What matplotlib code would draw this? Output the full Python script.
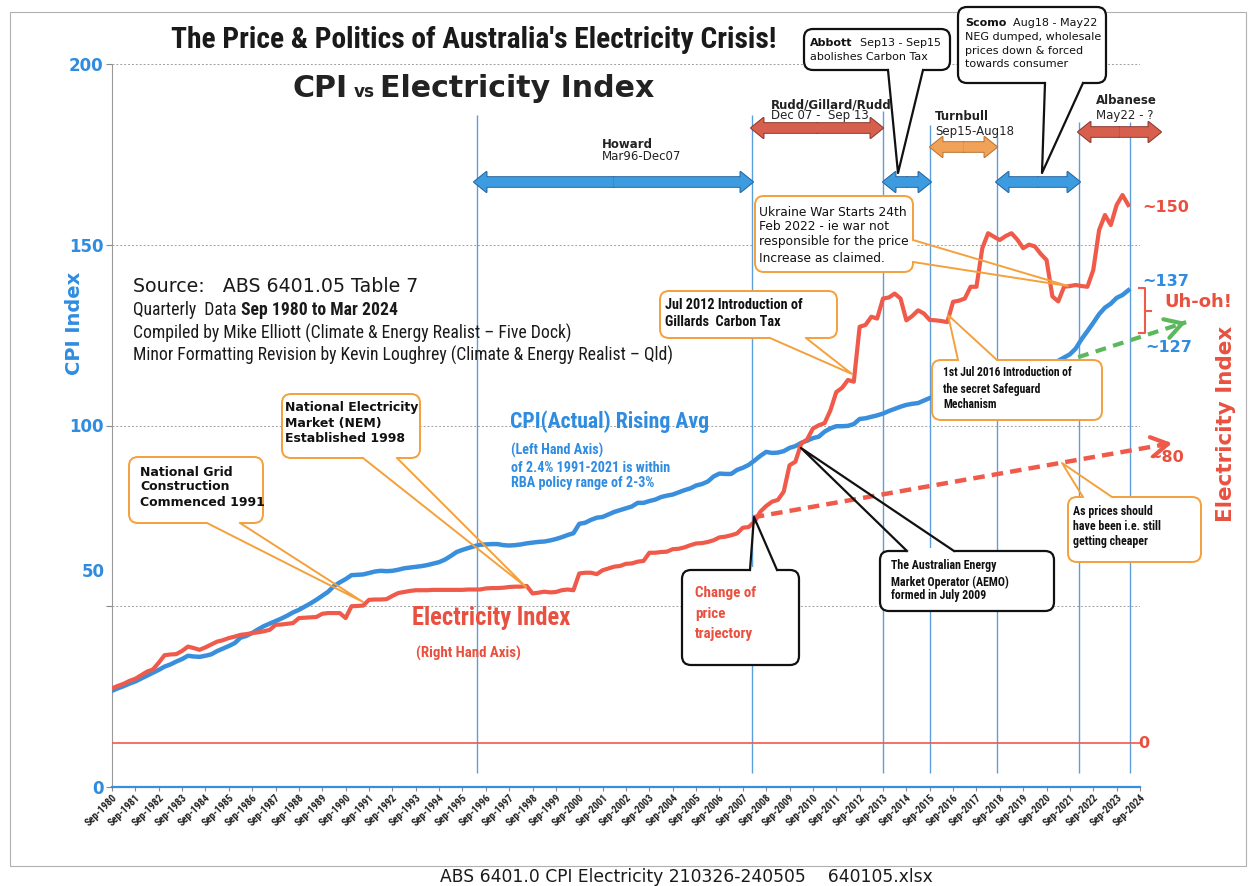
import matplotlib
matplotlib.use('Agg')
import matplotlib.pyplot as plt
import numpy as np
import pandas as pd
from matplotlib import font_manager as fm
from matplotlib.patches import FancyBboxPatch, Polygon, FancyArrowPatch, Rectangle
from matplotlib.lines import Line2D
from matplotlib.transforms import Affine2D

W, H = 1255, 886
plt.rcParams['font.family'] = ['DejaVu Sans']


# 找一个窄体字体 (原图用的是 Ubuntu Condensed)
def pick_narrow():
    names = {}
    for f in fm.fontManager.ttflist:
        names.setdefault(f.name, set()).add(f.stretch)
    for n in ['Liberation Sans Narrow', 'Roboto Condensed', 'Noto Sans Condensed',
              'Open Sans Condensed', 'DejaVu Sans Condensed', 'Ubuntu Condensed']:
        if n in names:
            return dict(family=n)
    for n in ['Noto Sans', 'Roboto', 'Open Sans', 'DejaVu Sans', 'Liberation Sans']:
        for st in ['condensed', 'semi-condensed', 'extra-condensed']:
            if st in names.get(n, ()):
                return dict(family=n, fontstretch=st)
    for n in names:
        if ('Condensed' in n or 'Narrow' in n) and 'Mono' not in n and 'CJK' not in n:
            return dict(family=n)
    return dict(family='Roboto' if 'Roboto' in names else 'DejaVu Sans')


NK = pick_narrow()

# ---------------- 数据 (季度, Sep 1980 - Mar 2024) ----------------
quarters = pd.period_range('1980Q3', '2024Q1', freq='Q')

cpi = [
    26.6, 27.3,
    27.9, 28.6, 29.2, 30.0,
    30.8, 31.6, 32.4, 33.3,
    33.9, 34.7, 35.4, 36.3,
    36.1, 36.0, 36.3, 36.7,
    37.6, 38.3, 39.0, 39.8,
    41.3, 41.8, 42.6, 43.6,
    44.5, 45.2, 45.9, 46.6,
    47.4, 48.3, 49.0, 49.9,
    50.8, 51.8, 52.9, 54.0,
    55.6, 56.6, 57.5, 58.6,
    58.7, 58.8, 59.2, 59.6,
    59.8, 59.7, 59.8, 60.1,
    60.5, 60.7, 60.9, 61.1,
    61.4, 61.8, 62.2, 62.9,
    63.9, 65.0, 65.6, 66.1,
    66.6, 67.0, 67.1, 67.2,
    67.2, 66.9, 66.8, 66.9,
    67.1, 67.4, 67.6, 67.8,
    67.9, 68.2, 68.6, 69.1,
    69.7, 70.2, 72.8, 73.1,
    73.9, 74.5, 74.7, 75.4,
    76.1, 76.6, 77.1, 77.6,
    78.6, 78.6, 79.1, 79.5,
    80.2, 80.6, 80.9, 81.5,
    82.1, 82.6, 83.4, 83.8,
    84.5, 85.9, 86.7, 86.6,
    86.6, 87.7, 88.3, 89.1,
    90.3, 91.6, 92.7, 92.4,
    92.5, 92.9, 93.8, 94.3,
    95.2, 95.8, 96.5, 96.9,
    98.3, 99.2, 99.8, 99.8,
    99.9, 100.4, 101.8, 102.0,
    102.4, 102.8, 103.3, 104.0,
    104.6, 105.2, 105.7, 106.0,
    106.2, 106.9, 107.6, 108.0,
    108.2, 108.6, 109.4, 110.0,
    110.5, 110.7, 111.4, 112.1,
    112.6, 113.0, 113.5, 114.1,
    114.1, 114.8, 115.4, 116.2,
    116.6, 114.4, 116.2, 117.2,
    117.9, 118.8, 119.7, 121.3,
    123.9, 126.1, 128.4, 130.8,
    132.6, 133.7, 135.3, 136.1,
    137.4,
]

elec = [
    15.3, 16.0,
    16.6, 17.4, 18.0, 19.0,
    20.0, 20.6, 22.5, 24.6,
    24.8, 24.9, 25.8, 27.0,
    26.6, 26.1, 26.8, 27.6,
    28.4, 28.8, 29.4, 29.8,
    30.3, 30.5, 30.8, 31.0,
    31.3, 31.7, 33.1, 33.2,
    33.4, 33.6, 35.0, 35.1,
    35.2, 35.3, 36.2, 36.4,
    36.4, 36.4, 35.0, 38.3,
    38.4, 38.5, 40.1, 40.2,
    40.2, 40.3, 41.2, 42.0,
    42.3, 42.6, 42.8, 42.8,
    42.8, 42.9, 42.9, 42.9,
    42.9, 42.9, 42.9, 43.0,
    43.0, 43.0, 43.3, 43.4,
    43.4, 43.5, 43.7, 43.8,
    43.8, 44.0, 41.9, 42.1,
    42.4, 42.2, 42.3, 42.8,
    43.0, 42.8, 47.5, 47.7,
    47.7, 47.3, 48.4, 48.9,
    49.4, 49.6, 50.2, 50.3,
    50.8, 51.0, 53.3, 53.3,
    53.5, 53.6, 54.3, 54.4,
    54.8, 55.4, 55.9, 56.0,
    56.3, 56.8, 57.6, 57.8,
    58.2, 58.7, 60.3, 60.5,
    62.0, 64.8, 66.4, 67.6,
    68.1, 70.4, 77.8, 78.8,
    83.9, 85.0, 88.1, 89.0,
    89.6, 93.2, 98.3, 99.5,
    101.7, 101.2, 116.6, 117.1,
    119.4, 118.9, 124.5, 124.8,
    125.9, 124.5, 118.4, 119.6,
    121.2, 120.3, 118.5, 118.4,
    118.2, 117.9, 123.6, 123.9,
    124.5, 127.8, 127.8, 138.6,
    142.8, 141.8, 140.9, 142.0,
    142.8, 141.0, 138.6, 139.6,
    139.1, 137.0, 135.3, 125.1,
    123.7, 127.8, 128.0, 128.3,
    128.0, 127.8, 132.5, 143.7,
    147.9, 145.1, 150.7, 153.5,
    150.7,
]
assert len(cpi) == len(elec) == len(quarters)

tick_years = list(range(1980, 2025))
tick_labels = [f'Sep-{y}' for y in tick_years]

# 政府更替竖线 (年份, 顶端 CPI 值)
event_x = [1996.24, 2008.0, 2013.64, 2015.64, 2018.49, 2022.02, 2024.2]
event_top = [186, 186, 187, 183, 180, 184, 184]

# "应有的价格" 趋势虚线 (右轴)
trend_x = [2008.05, 2026.0]
trend_e = [63.2, 84.0]
# 绿色虚线 (左轴)
green_x = [2021.98, 2026.6]
green_y = [118.9, 128.6]

# ---------------- 颜色 ----------------
BLUE = '#3a8fdc'
RED = '#ef5a4a'
BLUE_TXT = '#2f8ce0'
RED_TXT = '#e9503f'
ORANGE = '#f4a03c'
GREEN = '#5cb85c'
INK = '#1a1a1a'

x = np.asarray(quarters.year + (quarters.quarter - 1) * 0.25 + 0.125, dtype=float)

fig = plt.figure(figsize=(W / 100, H / 100), dpi=100)
fig.patch.set_facecolor('white')
T = Affine2D().scale(1, -1).translate(0, H)   # 像素坐标 (左上角为原点)
R = fig.canvas.get_renderer()

ax = fig.add_axes([112 / W, 1 - 787 / H, 1028 / W, 723 / H])
ax.set_xlim(1980.625, 2024.625)
ax.set_ylim(0, 200)
ax.set_axisbelow(True)
ax.grid(axis='y', color='#a0a0a0', lw=0.7, ls=(0, (2, 2)))
ax.vlines(event_x, 3.8, event_top, color='#5d9fdc', lw=1.0, zorder=1)
ax.plot(x, cpi, color=BLUE, lw=3.2, zorder=3)

for s in ['top', 'right']:
    ax.spines[s].set_visible(False)
ax.spines['left'].set_color('#9a9a9a')
ax.spines['left'].set_linewidth(0.8)
ax.spines['bottom'].set_color(BLUE)
ax.spines['bottom'].set_linewidth(1.6)

ax.set_xticks([y + 0.625 for y in tick_years])
ax.set_xticklabels(tick_labels, rotation=45, ha='right', rotation_mode='anchor',
                   fontsize=7.5, fontweight='bold', color='#222222', **NK)
ax.tick_params(axis='x', length=3, color='#888888', pad=1)
ax.set_yticks([0, 50, 100, 150, 200])
ax.set_yticklabels(['0', '', '100', '150', '200'], color=BLUE_TXT, fontsize=12, fontweight='bold')
ax.tick_params(axis='y', length=4, pad=2, color='#888888')

# 绿色虚线箭头
ax.plot(green_x, green_y, color=GREEN, lw=3, ls=(0, (2.6, 1.8)), clip_on=False, zorder=3)
gb = (green_x[1] - 0.03 * (green_x[1] - green_x[0]), green_y[1] - 0.03 * (green_y[1] - green_y[0]))
ax.annotate('', xy=(green_x[1], green_y[1]), xytext=gb, annotation_clip=False,
            arrowprops=dict(arrowstyle='->,head_length=0.6,head_width=0.35', color=GREEN, lw=3,
                            mutation_scale=20, shrinkA=0, shrinkB=0))

ax2 = ax.twinx()
ax2.set_ylim(-12.32, 190.2)
ax2.axhline(0, color=RED, lw=1.2, zorder=2)
ax2.plot(x, elec, color=RED, lw=3, zorder=3)
ax2.plot(trend_x, trend_e, color=RED, lw=3.2, ls=(0, (2.6, 1.6)), clip_on=False, zorder=3)
tb = (trend_x[1] - 0.03 * (trend_x[1] - trend_x[0]), trend_e[1] - 0.03 * (trend_e[1] - trend_e[0]))
ax2.annotate('', xy=(trend_x[1], trend_e[1]), xytext=tb, annotation_clip=False,
             arrowprops=dict(arrowstyle='->,head_length=0.6,head_width=0.35', color=RED, lw=3,
                             mutation_scale=20, shrinkA=0, shrinkB=0))
ax2.axis('off')


# ---------------- 注释辅助函数 (像素坐标) ----------------
def txt(px, py, s, **kw):
    kw.setdefault('va', 'center')
    kw.setdefault('zorder', 10)
    return fig.text(px, py, s, transform=T, **kw)


def right(t):
    return t.get_window_extent(R).x1


def fit(ts, target):
    # 按参考图中的宽度缩放字号
    w = max(t.get_window_extent(R).width for t in ts)
    for t in ts:
        t.set_fontsize(t.get_fontsize() * target / w)
    return ts


def block(px, ys, strings, target, **kw):
    return fit([txt(px, py, s, **kw) for py, s in zip(ys, strings)], target)


def callout(x0, y0, x1, y1, ec, lw=1.4, base=None, tip=None, side='bottom'):
    fig.add_artist(FancyBboxPatch((x0, y0), x1 - x0, y1 - y0,
                                  boxstyle='round,pad=0,rounding_size=9', transform=T,
                                  fc='white', ec=ec, lw=lw, zorder=6))
    if tip is None:
        return
    (bx0, by0), (bx1, by1) = base
    d = {'bottom': (0, -3), 'top': (0, 3), 'right': (-3, 0)}[side]
    gap = [(bx0 + d[0], by0 + d[1]), (bx0 - d[0], by0 - d[1]),
           (bx1 - d[0], by1 - d[1]), (bx1 + d[0], by1 + d[1])]
    fig.add_artist(Polygon(gap, closed=True, transform=T, fc='white', ec='none', zorder=6.1))
    fig.add_artist(Line2D([bx0, tip[0], bx1], [by0, tip[1], by1], transform=T,
                          color=ec, lw=lw, zorder=6.2))


def dbl_arrow(xa, xb, y, fc, ec):
    xm = (xa + xb) / 2
    style = 'simple,head_length=0.9,head_width=1.45,tail_width=0.7'
    for lw, e in ((1.4, ec), (0, fc)):
        for end in (xa, xb):
            fig.add_artist(FancyArrowPatch((xm, y), (end, y), arrowstyle=style, mutation_scale=10,
                                           transform=T, fc=fc, ec=e, lw=lw,
                                           shrinkA=0, shrinkB=0, zorder=5))


# 外框与页脚
fig.add_artist(Rectangle((10, 12), 1236, 854, transform=T, fill=False, ec='#b0b0b0', lw=0.8, zorder=0))
fit([txt(686, 877, 'ABS 6401.0 CPI Electricity 210326-240505    640105.xlsx',
         ha='center', fontsize=11, color=INK)], 492)

# 标题
fit([txt(474, 40, "The Price & Politics of Australia's Electricity Crisis!", ha='center',
         fontweight='bold', fontsize=24, color=INK, **NK)], 608)
ei = txt(380, 97, 'Electricity Index', va='baseline', fontweight='bold', fontsize=20, color='#222222')
fit([ei], 275)
txt(293, 97, 'CPI', va='baseline', fontweight='bold', fontsize=ei.get_fontsize(), color='#222222')
fit([txt(354, 97, 'vs', va='baseline', fontweight='bold', fontsize=13, color='#222222')], 21)

# 坐标轴标题
txt(75, 323, 'CPI Index', rotation=90, ha='center', color=BLUE_TXT, fontweight='bold', fontsize=14)
txt(105, 572, '50', ha='right', color=BLUE_TXT, fontweight='bold', fontsize=12)
txt(1226, 424, 'Electricity Index', rotation=90, ha='center', color=RED_TXT,
    fontweight='bold', fontsize=15.5)

# 数据来源
fit([txt(133, 287, 'Source:   ABS 6401.05 Table 7', fontsize=13, color=INK)], 285)
minor = txt(133, 355, 'Minor Formatting Revision by Kevin Loughrey (Climate & Energy Realist \u2013 Qld)',
            fontsize=12, color=INK, **NK)
fit([minor], 540)
fs = minor.get_fontsize()
txt(133, 333, 'Compiled by Mike Elliott (Climate & Energy Realist \u2013 Five Dock)',
    fontsize=fs, color=INK, **NK)
q = txt(133, 310, 'Quarterly  Data ', fontsize=fs, color=INK, **NK)
txt(right(q), 310, 'Sep 1980 to Mar 2024', fontsize=fs, fontweight='bold', color=INK, **NK)

# 政府任期箭头
dbl_arrow(474, 753, 182, '#3d9be0', '#23629e')
dbl_arrow(751, 883, 128, '#d6604d', '#8a3528')
dbl_arrow(883, 931, 182, '#3d9be0', '#23629e')
dbl_arrow(930, 997, 147, '#f0a258', '#b8702e')
dbl_arrow(996, 1080, 182, '#3d9be0', '#23629e')
dbl_arrow(1078, 1161, 132, '#d6604d', '#8a3528')

txt(602, 144, 'Howard', fontweight='bold', fontsize=8.5, color='#222222')
txt(602, 157, 'Mar96-Dec07', fontsize=8.5, color='#222222')
txt(771, 105, 'Rudd/Gillard/Rudd', fontweight='bold', fontsize=8.5, color='#222222')
txt(771, 116, 'Dec 07 -  Sep 13', fontsize=8.5, color='#222222')
txt(935, 117, 'Turnbull', fontweight='bold', fontsize=8.5, color='#222222')
txt(935, 131, 'Sep15-Aug18', fontsize=8.5, color='#222222')
txt(1096, 101, 'Albanese', fontweight='bold', fontsize=8.5, color='#222222')
txt(1096, 115, 'May22 - ?', fontsize=8.5, color='#222222')

# Abbott / Scomo 黑框
callout(804, 29, 950, 70, '#111111', lw=1.6, base=[(888, 70), (923, 70)], tip=(898, 173))
t = txt(810, 43, 'Abbott', fontweight='bold', fontsize=8, color='#111111')
txt(right(t) + 7, 43, 'Sep13 - Sep15', fontsize=8, color='#111111')
txt(810, 57, 'abolishes Carbon Tax', fontsize=8, color='#111111')

callout(958, 7, 1106, 83, '#111111', lw=1.6, base=[(1045, 83), (1083, 83)], tip=(1042, 173))
t = txt(965, 23, 'Scomo', fontweight='bold', fontsize=8, color='#111111')
txt(right(t) + 7, 23, 'Aug18 - May22', fontsize=8, color='#111111')
for py, s in zip([37, 51, 64], ['NEG dumped, wholesale', 'prices down & forced', 'towards consumer']):
    txt(965, py, s, fontsize=8, color='#111111')

# 橙色 / 黑色 说明框
callout(129, 457, 263, 523, ORANGE, base=[(207, 523), (240, 523)], tip=(363, 602))
for py, s in zip([472, 487, 503], ['National Grid', 'Construction', 'Commenced 1991']):
    txt(140, py, s, fontweight='bold', fontsize=9, color='#111111')

callout(282, 394, 420, 458, ORANGE, base=[(363, 458), (397, 458)], tip=(526, 587))
for py, s in zip([408, 423, 438], ['National Electricity', 'Market (NEM)', 'Established 1998']):
    txt(285, py, s, fontweight='bold', fontsize=9, color='#111111')

callout(660, 291, 837, 338, ORANGE, base=[(770, 338), (806, 338)], tip=(852, 374))
block(665, [305, 322], ['Jul 2012 Introduction of', 'Gillards  Carbon Tax'], 138,
      fontweight='bold', fontsize=9, color='#111111', **NK)

callout(755, 196, 913, 272, ORANGE, base=[(913, 240), (913, 262)], tip=(1068, 286), side='right')
for py, s in zip([212, 227, 242, 259], ['Ukraine War Starts 24th', 'Feb 2022 - ie war not',
                                         'responsible for the price', 'Increase as claimed.']):
    txt(759, py, s, fontsize=8.8, color='#111111')

callout(932, 360, 1102, 420, ORANGE, base=[(958, 360), (997, 360)], tip=(948, 315), side='top')
block(943, [373, 389, 405], ['1st Jul 2016 Introduction of', 'the secret Safeguard', 'Mechanism'], 130,
      fontweight='bold', fontsize=9, color='#111111', **NK)

callout(880, 551, 1054, 611, '#111111', lw=1.6, base=[(907, 551), (954, 551)], tip=(801, 448), side='top')
block(891, [566, 582, 596], ['The Australian Energy', 'Market Operator (AEMO)', 'formed in July 2009'], 118,
      fontweight='bold', fontsize=9, color='#111111', **NK)

callout(682, 570, 799, 665, '#111111', lw=1.6, base=[(750, 570), (777, 570)], tip=(754, 517), side='top')
block(695, [593, 614, 634], ['Change of', 'price', 'trajectory'], 61,
      fontweight='bold', fontsize=11, color=RED_TXT, **NK)

callout(1068, 497, 1201, 562, ORANGE, base=[(1083, 497), (1112, 497)], tip=(1062, 463), side='top')
block(1073, [511, 526, 542], ['As prices should', 'have been i.e. still', 'getting cheaper'], 87,
      fontweight='bold', fontsize=8, color='#111111', **NK)

# 曲线说明文字
fit([txt(510, 422, 'CPI(Actual) Rising Avg', fontweight='bold', fontsize=15, color=BLUE_TXT, **NK)], 200)
block(511, [450, 468, 483], ['(Left Hand Axis)', 'of 2.4% 1991-2021 is within', 'RBA policy range of 2-3%'],
      160, fontweight='bold', fontsize=10, color=BLUE_TXT, **NK)
fit([txt(412, 618, 'Electricity Index', fontweight='bold', fontsize=15.5, color=RED_TXT, **NK)], 159)
fit([txt(416, 653, '(Right Hand Axis)', fontweight='bold', fontsize=10, color=RED_TXT, **NK)], 105)

# 右侧数值标签
txt(1142, 207, '~150', fontweight='bold', fontsize=11.5, color=RED_TXT)
txt(1142, 282, '~137', fontweight='bold', fontsize=11.5, color=BLUE_TXT)
txt(1145, 348, '~127', fontweight='bold', fontsize=11.5, color=BLUE_TXT)
txt(1148, 458, '~80', fontweight='bold', fontsize=11.5, color=RED_TXT)
txt(1138, 743, '0', fontweight='bold', fontsize=11.5, color=RED_TXT)
txt(1164, 302, 'Uh-oh!', fontweight='bold', fontsize=13, color=RED_TXT)
fig.add_artist(Line2D([1139, 1145, 1145, 1139], [288, 288, 333, 333], transform=T,
                      color=RED, lw=1.5, zorder=8))
fig.add_artist(Line2D([1145, 1151], [311, 311], transform=T, color=RED, lw=1.5, zorder=8))

fig.savefig('out.png', dpi=100, facecolor='white')
